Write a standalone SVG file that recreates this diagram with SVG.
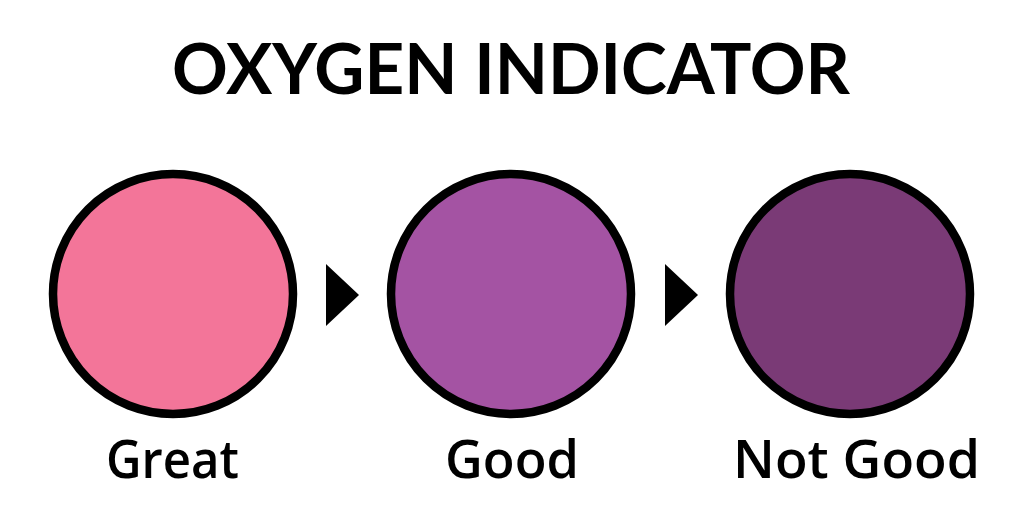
<svg xmlns="http://www.w3.org/2000/svg" width="1024" height="512" viewBox="0 0 1024 512">
<style>
.c{stroke:#000;stroke-width:8.5}
.t{font-family:Lato,"Open Sans",sans-serif;font-weight:700;fill:#000}
.l{font-family:"Open Sans",Lato,sans-serif;font-weight:600;font-size:52px;fill:#000}
</style>
<rect width="1024" height="512" fill="#fff"/>
<text class="t" x="511" y="94" font-size="70" text-anchor="middle" textLength="678" lengthAdjust="spacingAndGlyphs">OXYGEN INDICATOR</text>
<g id="great"><circle class="c" cx="173" cy="294" r="120" fill="#F37599"/><text class="l" x="106" y="478" textLength="133" lengthAdjust="spacingAndGlyphs">Great</text></g>
<g id="good"><circle class="c" cx="511" cy="294" r="120" fill="#A453A3"/><text class="l" x="445" y="478" textLength="134" lengthAdjust="spacingAndGlyphs">Good</text></g>
<g id="notgood"><circle class="c" cx="850" cy="294" r="120" fill="#7A3A76"/><text class="l" x="733" y="478" textLength="247" lengthAdjust="spacingAndGlyphs">Not Good</text></g>
<g id="connectors">
<polygon points="326,264 359,295 326,326" fill="#000"/>
<polygon points="665,264 698,295 665,326" fill="#000"/>
</g>
</svg>
